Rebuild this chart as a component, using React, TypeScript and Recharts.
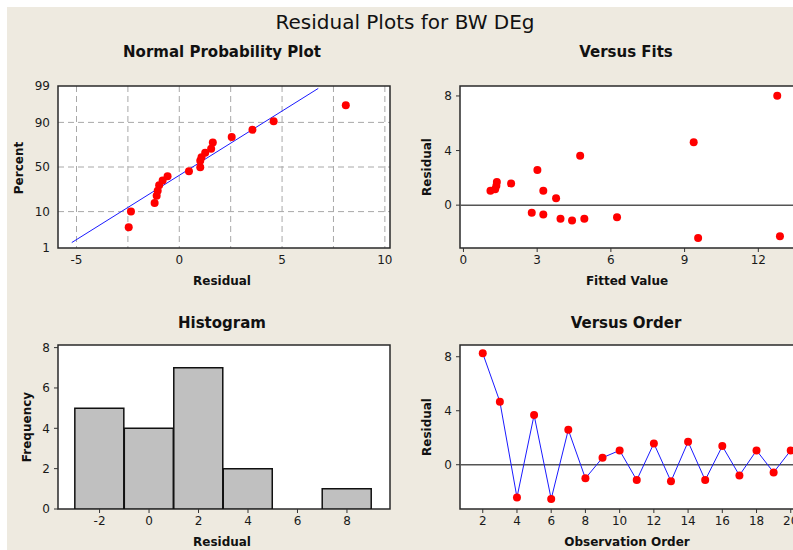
import React from 'react';
import {
  ScatterChart,
  Scatter,
  XAxis,
  YAxis,
  CartesianGrid,
  ReferenceLine,
  ReferenceArea,
  BarChart,
  Bar,
} from 'recharts';

// ---------- Data ----------
// Normal probability plot (residual vs percent)
const probResidual = [-2.46, -2.35, -1.2, -1.1, -1.05, -0.98, -0.81, -0.57, 0.47, 1.02, 1.02, 1.08, 1.26, 1.55, 1.63, 2.55, 3.56, 4.59, 8.1];
const probPercent = [4.2, 10.1, 15.1, 20.5, 24.7, 30, 35, 39.6, 45.1, 49.6, 57, 61, 66, 70, 76, 80.5, 85.7, 90.5, 96.2];
const fitLineResidual = [-5.23, 6.76];
const fitLinePercent = [1.5, 98.8];
const percentTicks = [1, 10, 50, 90, 99];
const percentGrid = [10, 50, 90];
const probXTicks = [-5, 0, 5, 10];
const probGridX = [-5, -2.5, 0, 2.5, 5, 7.5, 10];

// Versus fits
const fittedValues = [1.1, 1.29, 1.34, 1.36, 1.94, 2.78, 3.01, 3.25, 3.25, 3.77, 3.95, 4.42, 4.75, 4.92, 6.25, 9.37, 9.55, 12.77, 12.88];
const fitResiduals = [1.05, 1.17, 1.42, 1.69, 1.59, -0.56, 2.57, 1.05, -0.68, 0.51, -1.0, -1.12, 3.62, -1.0, -0.88, 4.6, -2.4, 8.02, -2.27];
const fitsXTicks = [0, 3, 6, 9, 12];
const residualTicks = [0, 4, 8];

// Histogram
const histBins = [-2, 0, 2, 4, 6, 8];
const histCounts = [5, 4, 7, 2, 0, 1];
const histYTicks = [0, 2, 4, 6, 8];

// Versus order
const orderIndex = [2, 3, 4, 5, 6, 7, 8, 9, 10, 11, 12, 13, 14, 15, 16, 17, 18, 19, 20];
const orderResiduals = [8.25, 4.67, -2.42, 3.68, -2.54, 2.59, -1.01, 0.52, 1.06, -1.14, 1.58, -1.23, 1.7, -1.14, 1.38, -0.79, 1.06, -0.57, 1.06];
const orderXTicks = [2, 4, 6, 8, 10, 12, 14, 16, 18, 20];

// ---------- Helpers ----------
function probit(p: number): number {
  const a = [-39.69683028665376, 220.9460984245205, -275.9285104469687, 138.357751867269, -30.66479806614716, 2.506628277459239];
  const b = [-54.47609879822406, 161.5858368580409, -155.6989798598866, 66.80131188771972, -13.28068155288572];
  const c = [-0.007784894002430293, -0.3223964580411365, -2.400758277161838, -2.549732539343734, 4.374664141464968, 2.938163982698783];
  const d = [0.007784695709041462, 0.3224671290700398, 2.445134137142996, 3.754408661907416];
  const plow = 0.02425;
  const phigh = 1 - plow;
  if (p < plow) {
    const q = Math.sqrt(-2 * Math.log(p));
    return (((((c[0] * q + c[1]) * q + c[2]) * q + c[3]) * q + c[4]) * q + c[5]) / ((((d[0] * q + d[1]) * q + d[2]) * q + d[3]) * q + 1);
  }
  if (p <= phigh) {
    const q = p - 0.5;
    const r = q * q;
    return ((((((a[0] * r + a[1]) * r + a[2]) * r + a[3]) * r + a[4]) * r + a[5]) * q) / (((((b[0] * r + b[1]) * r + b[2]) * r + b[3]) * r + b[4]) * r + 1);
  }
  const q = Math.sqrt(-2 * Math.log(1 - p));
  return -(((((c[0] * q + c[1]) * q + c[2]) * q + c[3]) * q + c[4]) * q + c[5]) / ((((d[0] * q + d[1]) * q + d[2]) * q + d[3]) * q + 1);
}
const z = (pct: number) => probit(pct / 100);

const FONT = '"DejaVu Sans", Verdana, sans-serif';
const tickStyle = { fontSize: 12, fill: '#1a1a1a', fontFamily: FONT };
const FRAME = '#2a2a2a';

const RedDot = (props: any) => <circle cx={props.cx} cy={props.cy} r={4} fill="#ff0000" />;
const NoDot = () => <g />;

const probData = probResidual.map((r, i) => ({ x: r, y: z(probPercent[i]) }));
const fitLineData = fitLineResidual.map((r, i) => ({ x: r, y: z(fitLinePercent[i]) }));
const fitsData = fittedValues.map((f, i) => ({ x: f, y: fitResiduals[i] }));
const histData = histBins.map((b, i) => ({ bin: b, count: histCounts[i] }));
const orderData = orderIndex.map((o, i) => ({ x: o, y: orderResiduals[i] }));

const P1X: [number, number] = [-5.9, 10.25];
const P1Y: [number, number] = [z(1), z(99)];
const P2X: [number, number] = [-0.14, 14.51];
const P2Y: [number, number] = [-3.14, 8.73];
const P3X: [number, number] = [-3.68, 9.74];
const P3Y: [number, number] = [0, 8.13];
const P4X: [number, number] = [0.67, 21.71];
const P4Y: [number, number] = [-3.28, 8.87];

const abs: React.CSSProperties = { position: 'absolute', left: 0, top: 0 };

export default function App() {
  return (
    <div style={{ position: 'absolute', left: 0, top: 0, width: 793, height: 550, overflow: 'hidden', background: '#ffffff' }}>
      <div style={{ position: 'absolute', left: 7, top: 7, right: 0, bottom: 0, background: '#EEEAE0' }} />

      {/* Normal probability plot */}
      <div style={abs}>
        <ScatterChart width={793} height={550} margin={{ top: 86, left: 18, right: 403, bottom: 272 }}>
          <CartesianGrid
            fill="#ffffff"
            fillOpacity={1}
            stroke="#a8a8a8"
            strokeDasharray="6 4"
            verticalValues={probGridX}
            horizontalValues={percentGrid.map(z)}
          />
          <XAxis type="number" dataKey="x" domain={P1X} ticks={probXTicks} interval={0} allowDataOverflow
            axisLine={false} tickLine={false} tickSize={4} tickMargin={3} height={30} tick={tickStyle} />
          <YAxis type="number" dataKey="y" domain={P1Y} ticks={percentTicks.map(z)} interval={0} allowDataOverflow
            tickFormatter={(v: number) => {
              const idx = percentTicks.findIndex((p) => Math.abs(z(p) - v) < 1e-6);
              return idx >= 0 ? String(percentTicks[idx]) : '';
            }}
            axisLine={false} tickLine={false} tickSize={4} tickMargin={4} width={40} tick={tickStyle} />
          <ReferenceArea x1={P1X[0]} x2={P1X[1]} y1={P1Y[0]} y2={P1Y[1]} fill="none" stroke={FRAME} strokeWidth={1.5} ifOverflow="visible" />
          <Scatter data={fitLineData} line={{ stroke: '#1a1aff', strokeWidth: 1 }} shape={NoDot} isAnimationActive={false} />
          <Scatter data={probData} shape={RedDot} isAnimationActive={false} />
        </ScatterChart>
      </div>

      {/* Versus fits */}
      <div style={abs}>
        <ScatterChart width={830} height={550} margin={{ top: 86, left: 420, right: 10, bottom: 272 }}>
          <CartesianGrid fill="#ffffff" fillOpacity={1} horizontal={false} vertical={false} />
          <XAxis type="number" dataKey="x" domain={P2X} ticks={fitsXTicks} interval={0} allowDataOverflow
            axisLine={false} tickLine={{ stroke: '#333' }} tickSize={4} tickMargin={3} height={30} tick={tickStyle} />
          <YAxis type="number" dataKey="y" domain={P2Y} ticks={residualTicks} interval={0} allowDataOverflow
            axisLine={false} tickLine={{ stroke: '#333' }} tickSize={4} tickMargin={4} width={40} tick={tickStyle} />
          <ReferenceLine y={0} stroke="#555" strokeWidth={1.5} />
          <ReferenceArea x1={P2X[0]} x2={P2X[1]} y1={P2Y[0]} y2={P2Y[1]} fill="none" stroke={FRAME} strokeWidth={1.5} ifOverflow="visible" />
          <Scatter data={fitsData} shape={RedDot} isAnimationActive={false} />
        </ScatterChart>
      </div>

      {/* Histogram */}
      <div style={abs}>
        <BarChart width={793} height={550} data={histData} margin={{ top: 345, left: 18, right: 403, bottom: 11 }} barCategoryGap={0} barGap={0}>
          <CartesianGrid fill="#ffffff" fillOpacity={1} horizontal={false} vertical={false} />
          <XAxis dataKey="bin" type="number" domain={P3X} ticks={histBins} interval={0} allowDataOverflow
            axisLine={false} tickLine={{ stroke: '#333' }} tickSize={4} tickMargin={3} height={30} tick={tickStyle} />
          <YAxis type="number" domain={P3Y} ticks={histYTicks} interval={0} allowDataOverflow
            axisLine={false} tickLine={{ stroke: '#333' }} tickSize={4} tickMargin={4} width={40} tick={tickStyle} />
          <Bar dataKey="count" fill="#c0c0c0" stroke="#111" strokeWidth={1.5} isAnimationActive={false} />
          <ReferenceArea x1={P3X[0]} x2={P3X[1]} y1={P3Y[0]} y2={P3Y[1]} fill="none" stroke={FRAME} strokeWidth={1.5} ifOverflow="visible" />
        </BarChart>
      </div>

      {/* Versus order */}
      <div style={abs}>
        <ScatterChart width={830} height={550} margin={{ top: 345, left: 420, right: 10, bottom: 11 }}>
          <CartesianGrid fill="#ffffff" fillOpacity={1} horizontal={false} vertical={false} />
          <XAxis type="number" dataKey="x" domain={P4X} ticks={orderXTicks} interval={0} allowDataOverflow
            axisLine={false} tickLine={{ stroke: '#333' }} tickSize={4} tickMargin={3} height={30} tick={tickStyle} />
          <YAxis type="number" dataKey="y" domain={P4Y} ticks={residualTicks} interval={0} allowDataOverflow
            axisLine={false} tickLine={{ stroke: '#333' }} tickSize={4} tickMargin={4} width={40} tick={tickStyle} />
          <ReferenceLine y={0} stroke="#555" strokeWidth={1.5} />
          <ReferenceArea x1={P4X[0]} x2={P4X[1]} y1={P4Y[0]} y2={P4Y[1]} fill="none" stroke={FRAME} strokeWidth={1.5} ifOverflow="visible" />
          <Scatter data={orderData} line={{ stroke: '#1a1aff', strokeWidth: 1 }} shape={RedDot} isAnimationActive={false} />
        </ScatterChart>
      </div>

      {/* Titles and axis labels */}
      <svg width={793} height={550} style={{ ...abs, pointerEvents: 'none' }}>
        <g fontFamily={FONT} fill="#111">
          <text x={405} y={29} fontSize={20} textAnchor="middle">Residual Plots for BW DEg</text>
          <text x={222} y={57} fontSize={15} fontWeight="bold" textAnchor="middle">Normal Probability Plot</text>
          <text x={626} y={57} fontSize={15} fontWeight="bold" textAnchor="middle">Versus Fits</text>
          <text x={222} y={328} fontSize={15} fontWeight="bold" textAnchor="middle">Histogram</text>
          <text x={626} y={328} fontSize={15} fontWeight="bold" textAnchor="middle">Versus Order</text>

          <text x={222} y={285} fontSize={12} fontWeight="bold" textAnchor="middle">Residual</text>
          <text x={627} y={285} fontSize={12} fontWeight="bold" textAnchor="middle">Fitted Value</text>
          <text x={222} y={546} fontSize={12} fontWeight="bold" textAnchor="middle">Residual</text>
          <text x={627} y={546} fontSize={12} fontWeight="bold" textAnchor="middle">Observation Order</text>

          <text x={23} y={168} fontSize={12} fontWeight="bold" textAnchor="middle" transform="rotate(-90 23 168)">Percent</text>
          <text x={431} y={167} fontSize={12} fontWeight="bold" textAnchor="middle" transform="rotate(-90 431 167)">Residual</text>
          <text x={31} y={427} fontSize={12} fontWeight="bold" textAnchor="middle" transform="rotate(-90 31 427)">Frequency</text>
          <text x={431} y={427} fontSize={12} fontWeight="bold" textAnchor="middle" transform="rotate(-90 431 427)">Residual</text>
        </g>
      </svg>
    </div>
  );
}
